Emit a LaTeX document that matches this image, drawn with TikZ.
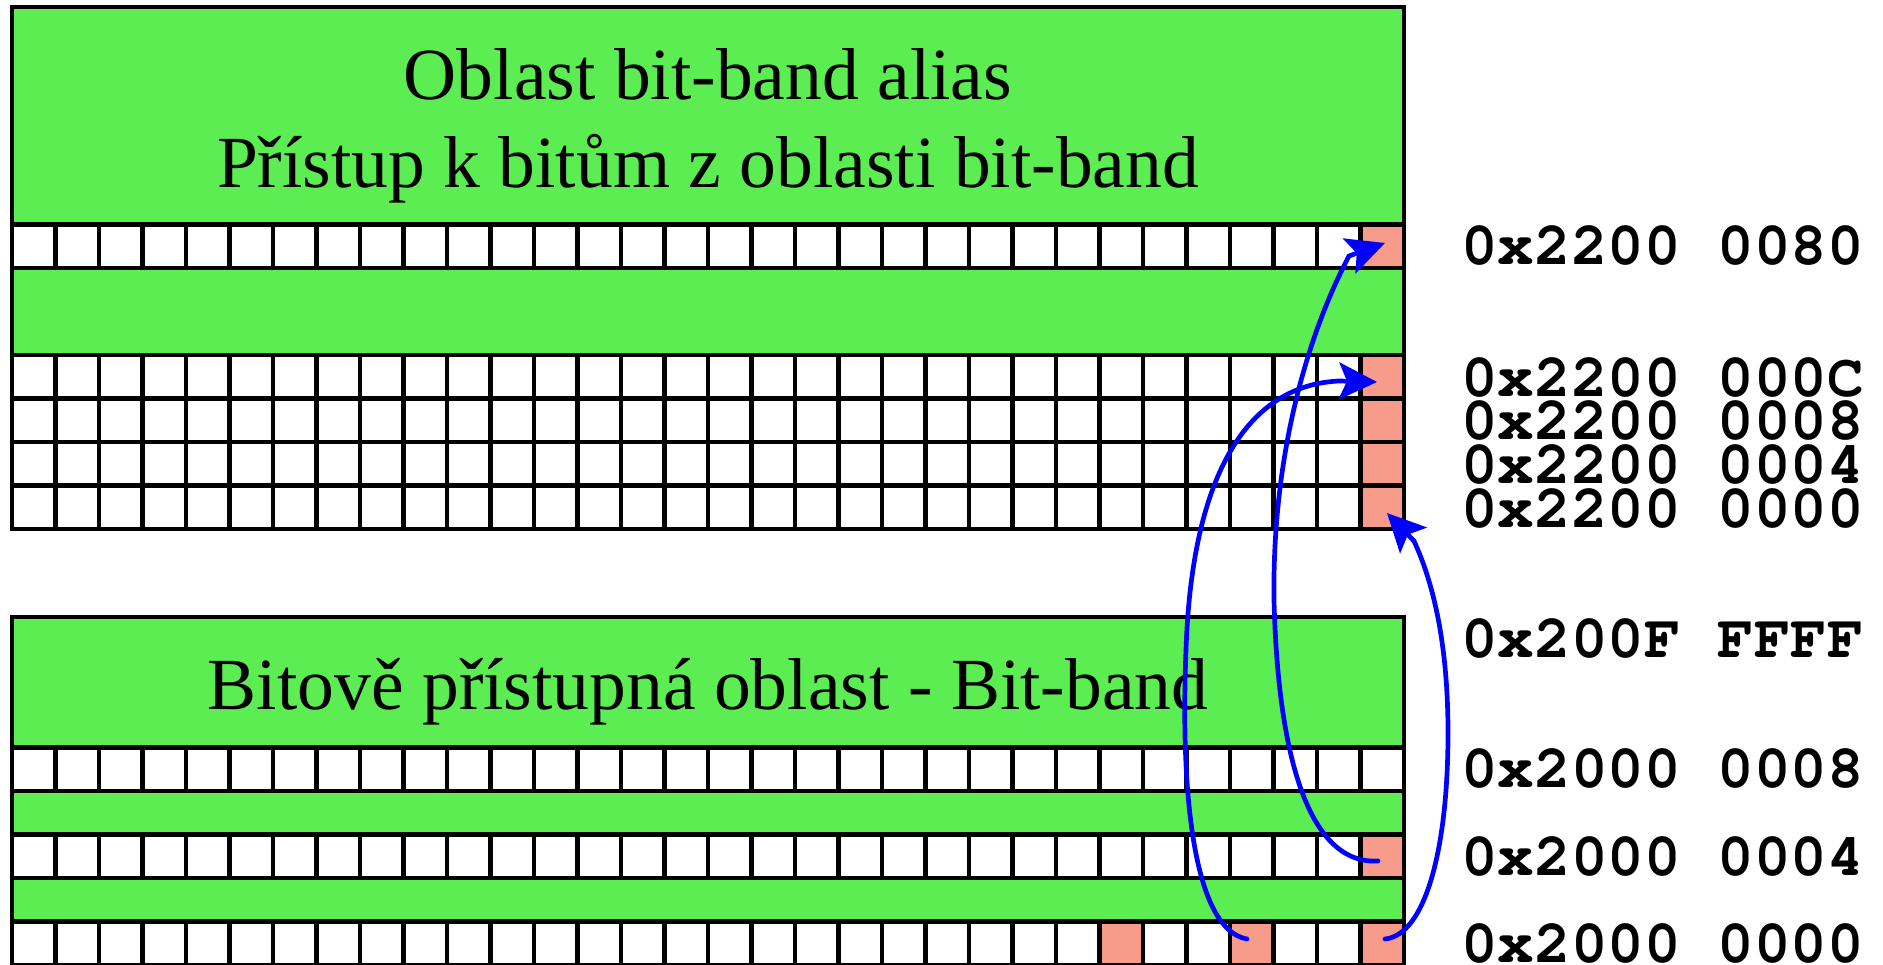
\documentclass[tikz,border=0pt]{standalone}
\usepackage{fontspec}
\setmainfont{Liberation Serif}
\newfontfamily\hexfont{TeX Gyre Cursor}
\usetikzlibrary{arrows.meta}
\definecolor{bandgreen}{RGB}{91,237,82}
\definecolor{bitpink}{RGB}{247,155,138}
\definecolor{arrowblue}{RGB}{0,0,255}
\begin{document}
\begin{tikzpicture}[x=1pt,y=-1pt,
  cellbox/.style={draw=black,line width=4.3pt},
  frame/.style={draw=black,line width=4.5pt},
  title/.style={anchor=base,inner sep=0pt,font=\fontsize{73.5}{88}\selectfont},
  hexlabel/.style={anchor=base west,inner sep=0pt,font=\hexfont\bfseries\fontsize{61}{70}\selectfont},
  maparrow/.style={draw=arrowblue,line width=4.7pt,line cap=round,-{Stealth[length=38pt,width=37pt,inset=8pt]}}
]
\useasboundingbox (0,0) rectangle (1883,965);
% ---------- alias region (top) ----------
\fill[bandgreen] (12,7) rectangle (1404,529);
\foreach \y in {224.5,355,398.5,442,485.5} {
  \fill[white] (12,\y) rectangle (1404,\y+43.5);
  \fill[bitpink] (1360.5,\y) rectangle (1404,\y+43.5);
  \foreach \i in {0,...,31} \draw[cellbox] ({12+43.5*\i},\y) rectangle ++(43.5,43.5);
}
\draw[frame] (12,7) rectangle (1404,529);
% ---------- bit-band region (bottom) ----------
\fill[bandgreen] (12,617) rectangle (1404,965);
\foreach \y in {747.5,834.5,921.5} {
  \fill[white] (12,\y) rectangle (1404,\y+43.5);
}
\fill[bitpink] (1360.5,834.5) rectangle ++(43.5,43.5);
\foreach \x in {1099.5,1230,1360.5} \fill[bitpink] (\x,921.5) rectangle ++(43.5,43.5);
\foreach \y in {747.5,834.5,921.5} {
  \foreach \i in {0,...,31} \draw[cellbox] ({12+43.5*\i},\y) rectangle ++(43.5,43.5);
}
\draw[frame] (12,617) rectangle (1404,965);
% ---------- titles ----------
\node[title] (alias1) at (708,100) {Oblast bit-band alias};
\node[title] (alias2) at (708,188) {Přístup k bitům z oblasti bit-band};
\node[title] (band) at (708,709) {Bitově přístupná oblast - Bit-band};
% ---------- addresses ----------
\node[hexlabel] (a80) at (1461,265) {0x2200 0080};
\node[hexlabel] (a0C) at (1461,396.5) {0x2200 000C};
\node[hexlabel] (a08) at (1461,440) {0x2200 0008};
\node[hexlabel] (a04) at (1461,483.5) {0x2200 0004};
\node[hexlabel] (a00) at (1461,527) {0x2200 0000};
\node[hexlabel] (bFF) at (1461,657.5) {0x200F FFFF};
\node[hexlabel] (b08) at (1461,787.5) {0x2000 0008};
\node[hexlabel] (b04) at (1461,875) {0x2000 0004};
\node[hexlabel] (b00) at (1461,962) {0x2000 0000};
% ---------- mapping arrows ----------
\coordinate (srcA) at (1385,939);
\coordinate (srcB) at (1247,939);
\coordinate (srcC) at (1378,861);
\coordinate (tgtA) at (1387,513);
\coordinate (tgtAb) at (1414,541);
\coordinate (tgtB) at (1377,382);
\coordinate (tgtBb) at (1339,381);
\coordinate (tgtC) at (1385,243);
\coordinate (tgtCb) at (1349,256);
\draw[maparrow] (srcA) .. controls (1425,935) and (1448,850) .. (1448,733)
  .. controls (1448,640) and (1432,580) .. (tgtAb) -- (tgtA);
\draw[maparrow] (srcB) .. controls (1195,930) and (1180,800) .. (1186,650)
  .. controls (1192,470) and (1250,385) .. (tgtBb) -- (tgtB);
\draw[maparrow] (srcC) .. controls (1310,865) and (1278,760) .. (1274,600)
  .. controls (1272,450) and (1310,330) .. (tgtCb) -- (tgtC);
\end{tikzpicture}
\end{document}
